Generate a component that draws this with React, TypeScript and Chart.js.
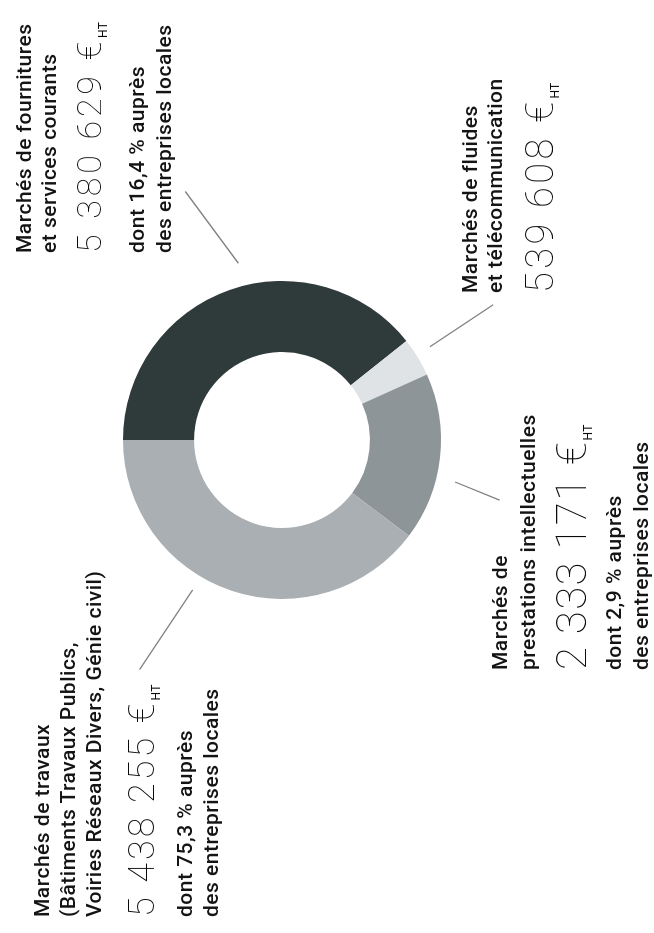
import React, { useEffect, useRef } from "react";
import { Chart, registerables } from "chart.js";

Chart.register(...registerables);

// ---- data ----
const categories = [
  "Marchés de fournitures et services courants",
  "Marchés de fluides et télécommunication",
  "Marchés de prestations intellectuelles",
  "Marchés de travaux (Bâtiments Travaux Publics, Voiries Réseaux Divers, Génie civil)",
];
const amounts = [5380629, 539608, 2333171, 5438255];
const localShares: (number | null)[] = [16.4, null, 2.9, 75.3];
const titleLines = [
  ["Marchés de fournitures", "et services courants"],
  ["Marchés de fluides", "et télécommunication"],
  ["Marchés de", "prestations intellectuelles"],
  ["Marchés de travaux", "(Bâtiments Travaux Publics,", "Voiries Réseaux Divers, Génie civil)"],
];
const unitLabel = "€";
const unitSub = "HT";

// ---- styles / layout ----
const segmentColors = ["#2f3a3b", "#dfe3e5", "#8e9598", "#a9afb2"];
const W = 654;
const H = 933;
const CENTER_X = 282;
const CENTER_Y = 440;
const OUTER_R = 159;
const CUTOUT = "55.3%";
const TEXT_FONT = 21;
const TEXT_SPACING = 0.5;
const BASE_RATIO = 0.842; // Roboto baseline position in a line box of height = font size

const blockLayout = [
  { startY: 253, titleBase: [32, 57], numBase: 101, numSize: 34, numSpacing: 3.8, noteBase: [145, 172] },
  { startY: 293, titleBase: [478, 503], numBase: 553, numSize: 38, numSpacing: 3.4, noteBase: [] },
  { startY: 670, titleBase: [508, 536], numBase: 586, numSize: 42, numSpacing: 1.4, noteBase: [622, 649] },
  { startY: 917, titleBase: [50, 76, 102], numBase: 154, numSize: 36, numSpacing: 3.0, noteBase: [193, 219] },
];

// leader lines: angle offset (deg) from the arc's mid angle and radius factor of the outer radius
const leaderSpecs = [
  { d1: 5.4, k1: 1.145, d2: -2.0, k2: 1.677 },
  { d1: -0.8, k1: 1.1, d2: -1.2, k2: 1.577 },
  { d1: 7.3, k1: 1.12, d2: 9.1, k2: 1.42 },
  { d1: 12.3, k1: 1.097, d2: 13.3, k2: 1.7 },
];

const formatAmount = (n: number) => String(n).replace(/\B(?=(\d{3})+(?!\d))/g, " ");
const formatShare = (s: number) => String(s).replace(".", ",");

const leaderPlugin = {
  id: "leaders",
  afterDatasetsDraw(chart: any) {
    const meta = chart.getDatasetMeta(0);
    const ctx = chart.ctx;
    ctx.save();
    ctx.strokeStyle = "#7d8284";
    ctx.lineWidth = 1.3;
    meta.data.forEach((arc: any, i: number) => {
      const spec = leaderSpecs[i];
      if (!spec) return;
      const p = arc.getProps(["x", "y", "startAngle", "endAngle", "outerRadius"], true);
      const mid = (p.startAngle + p.endAngle) / 2;
      const a1 = mid + (spec.d1 * Math.PI) / 180;
      const a2 = mid + (spec.d2 * Math.PI) / 180;
      const r1 = p.outerRadius * spec.k1;
      const r2 = p.outerRadius * spec.k2;
      ctx.beginPath();
      ctx.moveTo(p.x + r1 * Math.cos(a1), p.y + r1 * Math.sin(a1));
      ctx.lineTo(p.x + r2 * Math.cos(a2), p.y + r2 * Math.sin(a2));
      ctx.stroke();
    });
    ctx.restore();
  },
};

function Line({ base, size, children, style }: any) {
  return (
    <div
      style={{
        position: "absolute",
        left: 0,
        top: base - BASE_RATIO * size,
        fontSize: size,
        lineHeight: `${size}px`,
        whiteSpace: "nowrap",
        ...style,
      }}
    >
      {children}
    </div>
  );
}

function Block({ i }: { i: number }) {
  const L = blockLayout[i];
  const share = localShares[i];
  const textStyle = { fontFamily: "Roboto, sans-serif", fontWeight: 500, color: "#141414", letterSpacing: TEXT_SPACING };
  return (
    <div
      style={{
        position: "absolute",
        left: 0,
        top: L.startY,
        width: 0,
        height: 0,
        transform: "rotate(-90deg)",
        transformOrigin: "0 0",
      }}
    >
      {titleLines[i].map((t, j) => (
        <Line key={"t" + j} base={L.titleBase[j]} size={TEXT_FONT} style={textStyle}>
          {t}
        </Line>
      ))}
      <Line
        base={L.numBase}
        size={L.numSize}
        style={{ fontFamily: "Roboto, sans-serif", fontWeight: 100, color: "#0a0a0a", letterSpacing: L.numSpacing }}
      >
        {formatAmount(amounts[i])} {unitLabel}
        <span
          style={{
            fontSize: 12,
            lineHeight: 0,
            fontWeight: 400,
            letterSpacing: 0.3,
            position: "relative",
            top: 6,
          }}
        >
          {unitSub}
        </span>
      </Line>
      {share !== null && (
        <>
          <Line base={L.noteBase[0]} size={TEXT_FONT} style={textStyle}>
            {`dont ${formatShare(share)} % auprès`}
          </Line>
          <Line base={L.noteBase[1]} size={TEXT_FONT} style={textStyle}>
            des entreprises locales
          </Line>
        </>
      )}
    </div>
  );
}

export default function App() {
  const ref = useRef<HTMLCanvasElement | null>(null);
  useEffect(() => {
    if (!ref.current) return;
    const chart = new Chart(ref.current, {
      type: "doughnut",
      data: {
        labels: categories,
        datasets: [{ data: amounts, backgroundColor: segmentColors, borderWidth: 0 }],
      },
      options: {
        responsive: false,
        animation: false,
        rotation: -90,
        cutout: CUTOUT,
        events: [],
        layout: {
          padding: {
            left: CENTER_X - OUTER_R,
            right: W - CENTER_X - OUTER_R,
            top: CENTER_Y - OUTER_R,
            bottom: H - CENTER_Y - OUTER_R,
          },
        },
        plugins: { legend: { display: false }, tooltip: { enabled: false } },
      } as any,
      plugins: [leaderPlugin],
    });
    return () => chart.destroy();
  }, []);

  return (
    <div
      style={{
        position: "fixed",
        left: 0,
        top: 0,
        width: W,
        height: H,
        background: "#fff",
        overflow: "hidden",
      }}
    >
      <canvas ref={ref} width={W} height={H} style={{ position: "absolute", left: 0, top: 0, width: W, height: H }} />
      {categories.map((_, i) => (
        <Block key={i} i={i} />
      ))}
    </div>
  );
}
